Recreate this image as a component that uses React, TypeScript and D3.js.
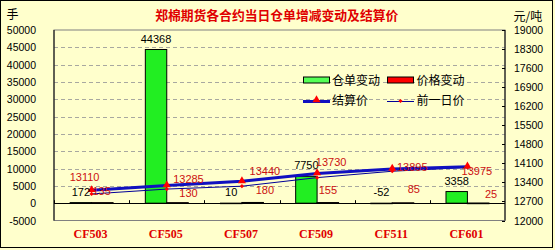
import React from "react";
import * as d3 from "d3";

const categories = ["CF503", "CF505", "CF507", "CF509", "CF511", "CF601"];
const warehouseChange = [172, 44368, 10, 7750, -52, 3358];
const priceChange = [135, 130, 180, 155, 85, 25];
const settlePrice = [13110, 13285, 13440, 13730, 13895, 13975];
const prevPrice = [12975, 13155, 13260, 13575, 13810, 13950];
const leftTicks = [50000, 45000, 40000, 35000, 30000, 25000, 20000, 15000, 10000, 5000, 0, -5000];
const rightTicks = [19000, 18300, 17600, 16900, 16200, 15500, 14800, 14100, 13400, 12700, 12000];

// layout-only label nudges (px)
const settleLabelOffset: [number, number][] = [[-7, -13.6], [21.7, -6.7], [23, -10.6], [14, -11.7], [20, -2], [9.5, 4]];
const priceLabelOffset: [number, number][] = [[10, -11.7], [21.7, -10], [23, -12.7], [10.8, -12.7], [21.6, -14], [23.6, -9.4]];

const W = 555, H = 250;
const L = 54, R = 505, T = 30, B = 220.5;
const num = "'Liberation Sans', Arial, sans-serif";
const cjk = "'Noto Sans CJK SC', sans-serif";

export default function App() {
  const x = d3.scaleBand<string>().domain(categories).range([L, R]).padding(0);
  const yL = d3.scaleLinear().domain([-5000, 50000]).range([B, T]);
  const yR = d3.scaleLinear().domain([12000, 19000]).range([B, T]);
  const bw = x.bandwidth();
  const barW = bw * 0.285;
  const cx = (i: number) => (x(categories[i]) as number) + bw / 2;
  const y0 = yL(0);

  const line = d3.line<number>().x((_, i) => cx(i)).y((v) => yR(v));
  const tri = d3.symbol().type(d3.symbolTriangle).size(28)();
  const dia = d3.symbol().type(d3.symbolSquare).size(9)();

  return (
    <svg width={W} height={H} style={{ position: "fixed", left: 0, top: 0, background: "#FFFFCC" }}>
      <rect x={0.5} y={0.5} width={W - 3} height={H - 3} fill="#FFFFCC" stroke="#000" strokeWidth={1} />
      {/* title */}
      <text x={276.7} y={19.5} textAnchor="middle" fontFamily={cjk} fontWeight="bold" fontSize={12.8} fill="#E00000">
        郑棉期货各合约当日仓单增减变动及结算价
      </text>
      <text x={6.5} y={19} fontFamily={cjk} fontSize={12} fill="#000">手</text>
      <text x={513.5} y={21} fontFamily={cjk} fontSize={12} fill="#000">元/吨</text>

      {/* grid */}
      {leftTicks.filter((t) => t !== 0 && t !== 50000 && t !== -5000).map((t) => (
        <line key={"g" + t} x1={L} x2={R} y1={Math.round(yL(t)) + 0.5} y2={Math.round(yL(t)) + 0.5} stroke="#A8A8A0" strokeDasharray="4,3" />
      ))}
      {/* plot border */}
      <rect x={L} y={T} width={R - L} height={B - T} fill="none" stroke="#808080" strokeWidth={1} />
      <line x1={L} x2={L} y1={T} y2={B} stroke="#000" />
      <line x1={R} x2={R} y1={T} y2={B} stroke="#000" />

      {/* left axis labels */}
      {leftTicks.map((t) => (
        <text key={"l" + t} x={36} y={yL(t) + 4} textAnchor="end" fontFamily={num} fontSize={10.5} fill="#000">{t}</text>
      ))}
      {/* right axis */}
      {rightTicks.map((t) => (
        <g key={"r" + t}>
          <line x1={R - 3} x2={R} y1={Math.round(yR(t)) + 0.5} y2={Math.round(yR(t)) + 0.5} stroke="#000" />
          <text x={514} y={yR(t) + 4} fontFamily={num} fontSize={10.5} fill="#000">{t}</text>
        </g>
      ))}

      {/* bars */}
      {warehouseChange.map((v, i) => (
        <rect key={"w" + i} x={cx(i) - barW} y={Math.min(yL(v), y0)} width={barW} height={Math.max(Math.abs(yL(v) - y0), 0.5)} fill="#22EE22" stroke="#000" strokeWidth={1} />
      ))}
      {priceChange.map((v, i) => (
        <rect key={"p" + i} x={cx(i)} y={Math.min(yL(v), y0)} width={barW} height={Math.max(Math.abs(yL(v) - y0), 0.5)} fill="#FF0000" stroke="#000" strokeWidth={1.2} />
      ))}

      {/* zero axis */}
      <line x1={L} x2={R} y1={Math.round(y0) + 0.5} y2={Math.round(y0) + 0.5} stroke="#000" />
      {categories.map((c, i) => (
        <line key={"t" + c} x1={Math.round(x(c) as number) + 0.5} x2={Math.round(x(c) as number) + 0.5} y1={y0 - 3} y2={y0} stroke="#000" />
      ))}
      {/* category labels */}
      {categories.map((c, i) => (
        <text key={"c" + c} x={cx(i) - 1} y={238} textAnchor="middle" fontFamily="'Liberation Serif', serif" fontWeight="bold" fontSize={12} fill="#E00000">{c}</text>
      ))}

      {/* lines */}
      <path d={line(prevPrice) || ""} fill="none" stroke="#000099" strokeWidth={1} />
      <path d={line(settlePrice) || ""} fill="none" stroke="#1010C0" strokeWidth={3} />
      {prevPrice.map((v, i) => (
        <path key={"pm" + i} d={dia} transform={`translate(${cx(i)},${yR(v)}) rotate(45)`} fill="#FF0000" />
      ))}
      {settlePrice.map((v, i) => (
        <path key={"sm" + i} d={tri} transform={`translate(${cx(i)},${yR(v) - 0.5})`} fill="#FF0000" />
      ))}

      {/* labels */}
      {warehouseChange.map((v, i) => (
        <text key={"wl" + i} x={cx(i) - barW / 2} y={Math.min(yL(v), y0) - 11 + 4} textAnchor="middle" fontFamily={num} fontSize={11} fill="#000">{v}</text>
      ))}
      {priceChange.map((v, i) => (
        <text key={"pl" + i} x={cx(i) + priceLabelOffset[i][0]} y={y0 + priceLabelOffset[i][1] + 4} textAnchor="middle" fontFamily={num} fontSize={11} fill="#CC1010">{v}</text>
      ))}
      {settlePrice.map((v, i) => (
        <text key={"sl" + i} x={cx(i) + settleLabelOffset[i][0]} y={yR(v) + settleLabelOffset[i][1] + 4} textAnchor="middle" fontFamily={num} fontSize={11} fill="#CC1010">{v}</text>
      ))}

      {/* legend */}
      <rect x={303.5} y={77} width={26} height={6} fill="#55FF55" stroke="#000" />
      <text x={332} y={84.5} fontFamily={cjk} fontSize={12} fill="#000">仓单变动</text>
      <rect x={387.5} y={77} width={26} height={6} fill="#FF0000" stroke="#000" />
      <text x={416.5} y={84.5} fontFamily={cjk} fontSize={12} fill="#000">价格变动</text>
      <line x1={303} x2={330} y1={101.5} y2={101.5} stroke="#1010C0" strokeWidth={3} />
      <path d={tri} transform="translate(316.5,100)" fill="#FF0000" />
      <text x={332} y={104.5} fontFamily={cjk} fontSize={12} fill="#000">结算价</text>
      <line x1={387} x2={414} y1={101.5} y2={101.5} stroke="#000099" strokeWidth={1} />
      <path d={dia} transform="translate(400.5,101) rotate(45)" fill="#FF0000" />
      <text x={416.5} y={104.5} fontFamily={cjk} fontSize={12} fill="#000">前一日价</text>
    </svg>
  );
}
